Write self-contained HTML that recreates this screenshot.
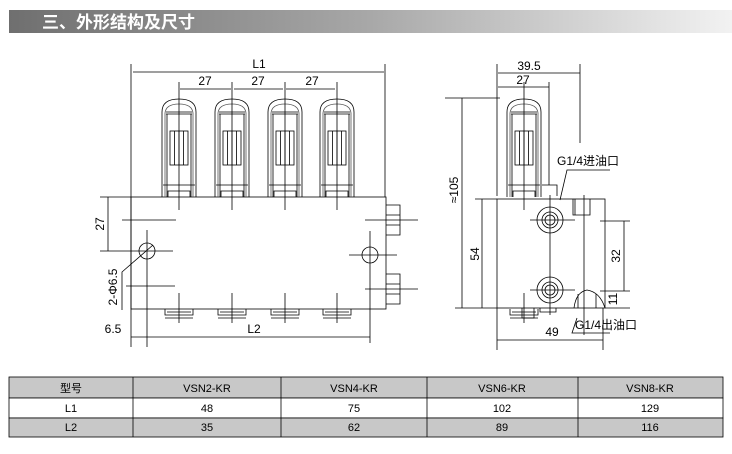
<!DOCTYPE html>
<html><head><meta charset="utf-8"><style>
body{margin:0;background:#fff;width:732px;height:449px;overflow:hidden;font-family:"Liberation Sans","Noto Sans CJK SC",sans-serif}
</style></head><body>
<svg width="732" height="449" viewBox="0 0 732 449" xmlns="http://www.w3.org/2000/svg" font-family="Liberation Sans, Noto Sans CJK SC, sans-serif">
<defs>
<linearGradient id="g" x1="0" x2="1"><stop offset="0" stop-color="#6f6f6f"/><stop offset="0.5" stop-color="#a8a8a8"/><stop offset="1" stop-color="#f2f2f2"/></linearGradient>
<g id="tube" fill="none" stroke="#000" stroke-width="0.8">
<path d="M-17,197 V112 Q-17,99 0,99 Q17,99 17,112 V197"/>
<path d="M-14,197 V113 Q-13,104 0,104 Q13,104 14,113 V197" stroke="#555"/>
<path d="M-13,112 H13 M-13,114 H13"/>
<path d="M-12,114 V197 M12,114 V197"/>
<rect x="-9" y="131" width="18" height="34"/>
<path d="M-4.5,131 V165 M0,131 V165 M4.5,131 V165"/>
<path d="M-16,185 H16 M-11,197 V191 H11 V197"/>
<path d="M-14,309 V315 H14 V309 M-12,312 H12 M-14,318 H14"/>
<path d="M0,82 V210 M0,293 V323"/>
</g>
</defs>
<rect x="9" y="10" width="723" height="23" fill="url(#g)"/>
<text x="42" y="28" fill="#fff" font-size="17" font-weight="bold">三、外形结构及尺寸</text>
<g stroke="#000" stroke-width="0.8" fill="none">
<rect x="131" y="197" width="255" height="112"/>
<use href="#tube" x="179"/><use href="#tube" x="232"/><use href="#tube" x="285"/><use href="#tube" x="337"/>
<path d="M131,64 V347 M385,64 V197 M133,72 H384 M180,89 H231 M234,89 H283 M286,89 H335"/>
<path d="M100,197 H131 M100,251 H173 M108,197 V251 M122,220 H176 M126,286 H175"/>
<circle cx="147" cy="251" r="8"/><circle cx="370" cy="255" r="8"/>
<path d="M147,230 V347 M370,231 V343 M349,255 H397 M365,220 H418 M365,289 H418"/>
<path d="M153,245 L122,272 V310"/>
<path d="M386,205 H400 V235 H386 M386,215 H400 M386,225 H400 M386,274 H400 V304 H386 M386,284 H400 M386,294 H400"/>
<path d="M131,337 H370"/>
<rect x="497" y="199" width="108" height="109"/>
<use href="#tube" x="524"/>
<path d="M497,64 V196 M580,64 V143 M498,73 H580 M498,87 H549 M549,82 V185 M542,185 H557 V196 M445,98 H500 M462,98 V308 M455,308 H497 M475,199 H497 M482,199 V308 M600,221 H630 M624,221 V291 M600,291 H630 M605,308 H630 M497,308 V350 M603,308 V350 M497,340 H603"/>
<circle cx="550" cy="220" r="13"/><circle cx="550" cy="220" r="8"/><circle cx="550" cy="220" r="5"/>
<circle cx="550" cy="290" r="13"/><circle cx="550" cy="290" r="8"/><circle cx="550" cy="290" r="5"/>
<path d="M530,220 H575 M550,195 V315 M530,290 H575 M584,195 V335"/>
<path d="M573,199 V215 H590 V199 M575,215 V199"/>
<path d="M574,308 Q576,292 587,290 Q600,292 605,308 M578,294 V308 M596,294 V308"/>
<path d="M522,308 V318 H534 V308 M540,308 V312 H556 V308"/>
<path d="M560,200 L567,170 H610 M577,318 L572,333 H610"/>
</g>
<g font-size="12" fill="#000" text-anchor="middle">
<text x="259" y="68">L1</text><text x="205" y="85">27</text><text x="258" y="85">27</text><text x="312" y="85">27</text>
<text x="254" y="333">L2</text><text x="113" y="333">6.5</text>
<text transform="translate(104,224) rotate(-90)">27</text>
<text transform="translate(117,287) rotate(-90)">2-Φ6.5</text>
<text x="529" y="70">39.5</text><text x="523" y="84">27</text>
<text transform="translate(458,190) rotate(-90)">≈105</text>
<text transform="translate(479,254) rotate(-90)">54</text>
<text transform="translate(620,256) rotate(-90)">32</text>
<text transform="translate(617,299) rotate(-90)">11</text>
<text x="552" y="336">49</text>
<text x="588" y="165">G1/4进油口</text><text x="606" y="329">G1/4出油口</text>
</g>
<g font-size="11" fill="#000" text-anchor="middle" stroke="#000" stroke-width="0.8">
<rect x="9" y="377" width="714" height="21" fill="#c8c8c8"/>
<rect x="9" y="398" width="714" height="20" fill="#fff"/>
<rect x="9" y="418" width="714" height="19" fill="#c8c8c8"/>
<path d="M133,377 V437 M281,377 V437 M427,377 V437 M578,377 V437"/>
<g stroke="none">
<text x="71" y="392">型号</text><text x="207" y="392">VSN2-KR</text><text x="354" y="392">VSN4-KR</text><text x="502" y="392">VSN6-KR</text><text x="650" y="392">VSN8-KR</text>
<text x="71" y="412">L1</text><text x="207" y="412">48</text><text x="354" y="412">75</text><text x="502" y="412">102</text><text x="650" y="412">129</text>
<text x="71" y="431">L2</text><text x="207" y="431">35</text><text x="354" y="431">62</text><text x="502" y="431">89</text><text x="650" y="431">116</text>
</g></g>
</svg>
</body></html>
